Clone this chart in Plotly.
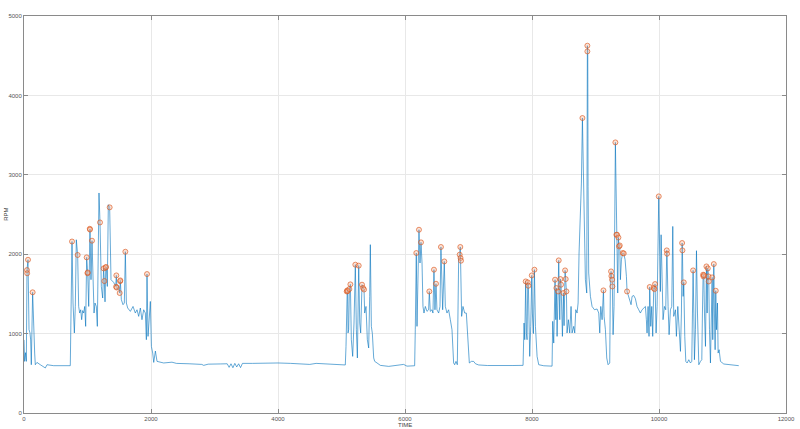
import plotly.graph_objects as go

# ---- data (TIME vs RPM) ----
time_s = [0, 10, 25, 37, 47, 63, 79, 94, 105, 115, 136, 152, 168, 178, 204, 257, 336, 362, 467, 729,
          756, 772, 793, 808, 824, 845, 861, 877, 893, 908, 924, 940, 956, 971, 987, 1003, 1019, 1039, 1055, 1071,
          1087, 1103, 1118, 1139, 1155, 1181, 1197, 1218, 1239, 1254, 1265, 1276, 1288, 1297, 1312, 1328, 1349, 1370,
          1412, 1444, 1454, 1465, 1491, 1507, 1517, 1533, 1559, 1580, 1596, 1612, 1633, 1675, 1717, 1753, 1780, 1806,
          1832, 1858, 1885, 1911, 1927, 1937, 1953, 1974, 1990, 2006, 2027, 2043, 2069, 2095, 2148,
          2200, 2330, 2400, 2600, 2800, 2830, 2900, 3100, 3200, 3230, 3260, 3290, 3320, 3350, 3380, 3410, 3440,
          3600, 3800, 4000, 4200, 4400, 4500, 4600, 4800, 5000, 5060,
          5071, 5082, 5090, 5097, 5103, 5113, 5124, 5140, 5155, 5176, 5197, 5218, 5234, 5250, 5271, 5287, 5302,
          5323, 5339, 5355, 5365, 5386, 5407, 5428, 5444, 5454, 5470, 5486, 5507, 5523, 5560, 5612, 5743, 5979,
          6031, 6152,
          6162, 6173, 6178, 6189, 6205, 6220, 6236, 6252, 6268, 6283, 6299, 6320, 6346, 6372, 6383, 6398, 6425,
          6440, 6456, 6472, 6488, 6503, 6530, 6551, 6566, 6582, 6593, 6619, 6635, 6661, 6687, 6714, 6740, 6766,
          6782, 6803, 6824, 6845, 6861, 6871, 6875, 6882, 6892, 6913, 6940, 6966, 6992, 7013, 7045, 7081, 7110, 7160,
          7300, 7500, 7700, 7859, 7875, 7886, 7901, 7912, 7922, 7933, 7943, 7954, 7964, 7980, 7996, 8006, 8022,
          8038, 8054, 8080, 8106, 8185, 8316,
          8326, 8342, 8363, 8374, 8384, 8395, 8411, 8421, 8437, 8447, 8458, 8479, 8495, 8505, 8521, 8531, 8542,
          8552, 8573, 8594, 8615, 8631, 8657, 8673, 8689, 8710, 8726, 8741, 8762, 8778, 8794, 8804, 8815, 8825,
          8841, 8862, 8872, 8878, 8883, 8893, 8920, 8946, 8983, 9025, 9051, 9067, 9083, 9104, 9125, 9135, 9156,
          9177, 9198, 9224, 9235, 9245, 9250, 9261, 9266, 9277, 9292, 9313, 9329, 9340, 9350, 9361, 9371, 9382,
          9392, 9408, 9429, 9445, 9466, 9487, 9497,
          9513, 9539, 9560, 9576, 9602, 9628, 9654, 9681, 9707, 9733, 9759, 9786, 9801, 9812, 9828, 9843, 9854,
          9870, 9886, 9901, 9917, 9928, 9938, 9954, 9970, 9985, 9996, 10012, 10022, 10033, 10049, 10064, 10085,
          10106, 10122, 10127, 10143, 10159, 10180, 10201, 10217, 10232, 10259, 10274, 10296, 10317, 10338, 10353,
          10364, 10369, 10380, 10390, 10406, 10422, 10443, 10469, 10495, 10516, 10527, 10537, 10548, 10558, 10574,
          10590, 10606, 10627, 10653, 10674, 10684, 10695, 10700, 10706, 10716, 10732, 10747, 10758, 10768, 10779,
          10784, 10795, 10810, 10826, 10837, 10847, 10863, 10873, 10884, 10894, 10905, 10921, 10931, 10947, 10968,
          11020, 11125, 11256]

rpm = [920, 650, 760, 650, 1800, 1930, 1050, 1010, 920, 608, 1520, 965, 755, 608, 637, 608, 567, 608, 596, 596,
       2160, 1385, 1008, 1342, 2182, 1990, 1342, 1259, 1300, 1175, 1290, 1259, 1342, 1091, 1960, 1763, 1342, 2317, 1679, 2170,
       1553, 1259, 1385, 1342, 1091, 2771, 2400, 1594, 1448, 1821, 1662, 1400, 1834, 1840, 1594, 2623, 2590, 1679,
       1645, 1594, 1733, 1553, 1594, 1511, 1670, 1427, 1364, 1385, 2031, 1385, 1322, 1280, 1342, 1259, 1300, 1217,
       1322, 1175, 1300, 1259, 923, 1750, 965, 1259, 1405, 839, 755, 637, 780, 650, 637,
       630, 640, 625, 620, 612, 600, 615, 618, 620, 575, 620, 570, 625, 580, 620, 572, 625,
       625, 630, 630, 625, 622, 612, 625, 620, 612, 605,
       839, 1531, 1544, 1535, 1008, 1049, 1561, 1620, 923, 713, 1133, 1868, 1049, 693, 1856, 1133, 1008,
       1616, 1574, 1555, 1259, 1342, 923, 819, 1469, 2120, 1091, 1000, 693, 650, 630, 600, 587, 612,
       590, 595,
       1049, 1931, 2015, 1091, 2057, 2308, 1889, 2149, 1889, 1342, 1259, 1342, 1280, 1300, 1531, 1280, 1300,
       1259, 1805, 1300, 1628, 1300, 1259, 1342, 2091, 1679, 1300, 1909, 1342, 1259, 1300, 1175, 1049, 630,
       608, 650, 608, 1952, 1994, 2091, 1952, 1918, 1217, 1342, 1259, 1259, 965, 630, 650, 650, 620, 605,
       598, 595, 598, 600, 1133, 923, 1657, 1000, 923, 1645, 1603, 1133, 713, 1091, 1733, 1259, 1000,
       1805, 1091, 713, 608, 595, 590,
       1154, 881, 1679, 1175, 1574, 965, 1531, 1922, 1175, 1687, 1616, 965, 1511, 1100, 1796, 1687, 1531,
       1008, 1175, 1008, 1342, 1008, 1091, 1008, 1301, 1259, 1385, 2015, 2434, 2896, 3715, 3274, 2434, 1931,
       1679, 1511, 4626, 4554, 2854, 1763, 1469, 1342, 1301, 1310, 1259, 1008, 1342, 1175, 1544, 1217, 1049,
       693, 608, 630, 1679, 1783, 1725, 1679, 1594, 986, 1342, 3408, 2245, 2245, 1511, 2210, 2098, 2110,
       1679, 1931, 2015, 2010, 1931, 1720, 1531,
       1490, 1427, 1364, 1469, 1480, 1440, 1342, 1300, 1259, 1300, 1322, 1342, 1175, 1008, 1342, 965, 1587,
       1091, 1342, 965, 1574, 1560, 1624, 1008, 1342, 2100, 2728, 1972, 1530, 2245, 1469, 1175, 1342,
       1300, 2048, 2006, 1342, 986, 1300, 1342, 2350, 1217, 1300, 965, 1342, 1008, 776, 1259,
       2141, 2048, 1469, 1645, 965, 650, 630, 671, 630, 650, 1259, 1796, 1259, 671, 1049,
       2044, 1259, 608, 650, 671, 1259, 1742, 1720, 1735, 1259, 839, 1846, 1259, 1821, 1720,
       1657, 1049, 630, 1259, 1708, 923, 1876, 1259, 797, 1540, 1049, 1385, 755, 797, 650,
       617, 605, 596]

peak_time = [47, 50, 63, 136, 756, 845, 987, 1000, 1003, 1036, 1039, 1071, 1197, 1254, 1265, 1285, 1292, 1349,
             1450, 1454, 1460, 1507, 1514, 1517, 1596, 1937,
             5082, 5090, 5097, 5124, 5140, 5218, 5271, 5323, 5339, 5355,
             6178, 6220, 6252, 6383, 6456, 6488, 6566, 6619, 6861, 6871, 6875, 6882,
             7901, 7933, 7943, 7996, 8038,
             8363, 8384, 8411, 8421, 8447, 8458, 8495, 8521, 8531, 8542, 8794, 8872, 8872, 9125, 9245, 9250,
             9261, 9266, 9313, 9329, 9340, 9361, 9371, 9382, 9429, 9445, 9497,
             9854, 9917, 9928, 9938, 9996, 10122, 10127, 10364, 10369, 10390, 10537, 10695, 10700, 10706,
             10747, 10768, 10779, 10784, 10837, 10863, 10894]
peak_rpm = [1800, 1760, 1930, 1520, 2160, 1990, 1960, 1760, 1770, 2320, 2310, 2170, 2400, 1821, 1662, 1830, 1840, 2590,
            1590, 1733, 1580, 1511, 1660, 1670, 2031, 1750,
            1531, 1544, 1535, 1561, 1620, 1868, 1856, 1616, 1574, 1555,
            2015, 2308, 2149, 1531, 1805, 1628, 2091, 1909, 1994, 2091, 1952, 1918,
            1657, 1645, 1603, 1733, 1805,
            1679, 1574, 1531, 1922, 1687, 1616, 1511, 1796, 1687, 1531, 3715, 4626, 4554, 1544, 1783, 1725,
            1679, 1594, 3408, 2245, 2245, 2210, 2098, 2110, 2015, 2010, 1531,
            1587, 1574, 1560, 1624, 2728, 2048, 2006, 2141, 2048, 1645, 1796, 1742, 1720, 1735,
            1846, 1821, 1720, 1657, 1708, 1876, 1540]

x_ticks = [0, 2000, 4000, 6000, 8000, 10000, 12000]
y_ticks = [0, 1000, 2000, 3000, 4000, 5000]

fig = go.Figure()
fig.add_trace(go.Scatter(x=time_s, y=rpm, mode="lines",
                         line=dict(color="rgba(0,114,189,0.6)", width=1), hoverinfo="skip"))
fig.add_trace(go.Scatter(x=peak_time, y=peak_rpm, mode="markers",
                         marker=dict(symbol="circle", size=5, color="rgba(245,175,140,0.35)",
                                     line=dict(color="rgba(217,83,25,0.7)", width=0.9))))

axis_common = dict(showline=True, linecolor="#8a8a8a", linewidth=1, mirror="ticks",
                   ticks="inside", ticklen=4, tickcolor="#8a8a8a", automargin=False,
                   showgrid=True, gridcolor="#e8e8e8", gridwidth=1, zeroline=False,
                   tickfont=dict(family="Liberation Sans, Arial", size=6, color="#555555"))
fig.update_xaxes(range=[0, 12000], tickvals=x_ticks, ticktext=[str(v) for v in x_ticks], **axis_common)
fig.update_yaxes(range=[0, 5000], tickvals=y_ticks, ticktext=[str(v) for v in y_ticks], **axis_common)

fig.update_layout(
    width=800, height=429, showlegend=False,
    margin=dict(l=24, r=14, t=16, b=16),
    plot_bgcolor="white", paper_bgcolor="white",
    annotations=[
        dict(text="TIME", x=0.5, y=-0.0295, xref="paper", yref="paper", showarrow=False,
             xanchor="center", yanchor="middle",
             font=dict(family="Liberation Sans, Arial", size=6, color="#444444")),
        dict(text="RPM", x=-0.0245, y=0.5, xref="paper", yref="paper", showarrow=False,
             textangle=-90, xanchor="center", yanchor="middle",
             font=dict(family="Liberation Sans, Arial", size=6, color="#444444")),
    ],
)

fig.write_html("out.html", config={"displayModeBar": False},
               post_script="document.body.style.margin='0';document.body.style.overflow='hidden';")
